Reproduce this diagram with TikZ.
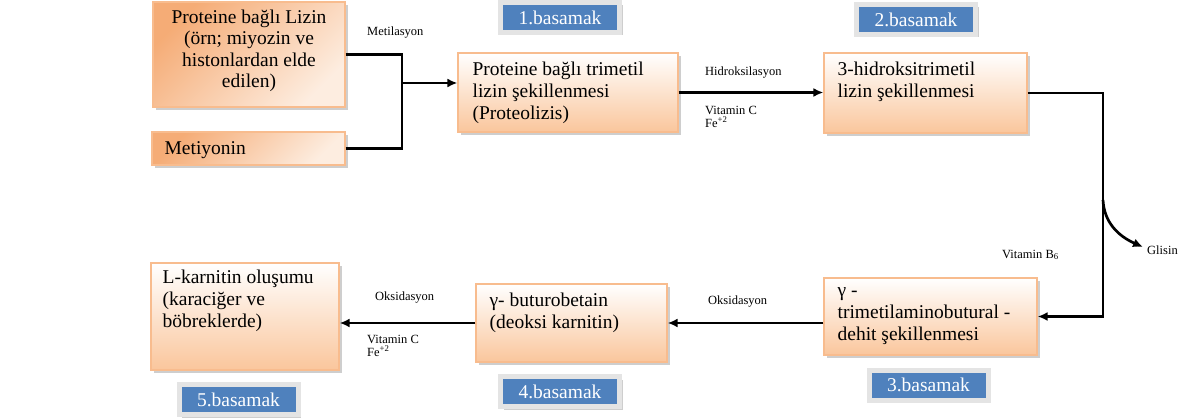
\documentclass[tikz,border=0pt]{standalone}
\usepackage{fontspec}
\setmainfont{Liberation Serif}
\usetikzlibrary{arrows.meta,shadows}
\definecolor{bord}{HTML}{F8BC8E}
\definecolor{peach}{HTML}{FAC69C}
\definecolor{darkpeach}{HTML}{F5AC76}
\definecolor{lightpeach}{HTML}{FDEDE0}
\definecolor{stepblue}{HTML}{4F81BD}
\definecolor{frame}{HTML}{E4E4E4}
\begin{document}
\begin{tikzpicture}[x=1pt,y=-1pt,
  shad/.style={drop shadow={shadow xshift=3pt, shadow yshift=-3pt, fill=black!35, opacity=.55}},
  box/.style={shad, draw=bord, line width=1.2pt, top color=white, bottom color=peach, inner sep=0pt},
  boxA/.style={shad, draw=bord, line width=1.2pt, top color=darkpeach, bottom color=lightpeach, shading angle=45, inner sep=0pt},
  txt/.style={anchor=north west, inner sep=0pt, align=left, font=\fontsize{19.5}{22}\selectfont},
  small/.style={inner sep=0pt, anchor=west, font=\fontsize{12.5}{12}\selectfont},
  smalltwo/.style={inner sep=0pt, anchor=west, align=left, font=\fontsize{12.5}{12.5}\selectfont},
  stepbox/.style={shad, fill=stepblue, draw=frame, line width=5pt, text=white, font=\fontsize{19.5}{22}\selectfont, minimum width=119pt, minimum height=30pt, inner sep=0pt},
  conn/.style={line width=2.7pt},
  arr/.style={conn, -{Latex[length=10pt,width=9pt]}}
]
\useasboundingbox (0,0) rectangle (1193,419);

% boxes
\node[boxA, minimum width=192pt, minimum height=105pt] (A) at (249,54.5) {};
\node[inner sep=0pt, align=center, font=\fontsize{19.5}{21.5}\selectfont] (At) at (249,51) {Proteine bağlı Lizin\\(örn; miyozin ve\\histonlardan elde\\edilen)};
\node[boxA, minimum width=193pt, minimum height=33pt] (M) at (248.5,148.5) {};
\node[txt] (Mt) at ([shift={(13,10)}]M.north west) {Metiyonin};

\node[box, minimum width=220pt, minimum height=79pt] (B) at (568,92.5) {};
\node[txt] (Bt) at ([shift={(15,9)}]B.north west) {Proteine bağlı trimetil\\lizin şekillenmesi\\(Proteolizis)};

\node[box, minimum width=203pt, minimum height=80pt] (C) at (925.5,93) {};
\node[txt] (Ct) at ([shift={(14,9)}]C.north west) {3-hidroksitrimetil\\lizin şekillenmesi};

\node[box, minimum width=213pt, minimum height=77pt] (D) at (930.5,316.5) {};
\node[txt] (Dt) at ([shift={(14,10)}]D.north west) {γ -\\trimetilaminobutural -\\dehit şekillenmesi};

\node[box, minimum width=191pt, minimum height=78pt] (E) at (571.5,323) {};
\node[txt] (Et) at ([shift={(14,9)}]E.north west) {γ- buturobetain\\(deoksi karnitin)};

\node[box, minimum width=188pt, minimum height=107pt] (F) at (245,316.5) {};
\node[txt] (Ft) at ([shift={(12,7)}]F.north west) {L-karnitin oluşumu\\(karaciğer ve\\böbreklerde)};

% step labels
\node[stepbox] (s1) at (560,17.5) {1.basamak};
\node[stepbox] (s2) at (916,19.5) {2.basamak};
\node[stepbox] (s3) at (928.5,385) {3.basamak};
\node[stepbox] (s4) at (560,391.5) {4.basamak};
\node[stepbox] (s5) at (238.5,399.5) {5.basamak};

% connectors
\coordinate (j) at (402,83);
\draw[conn] (A.east) -| (j);
\draw[conn] (M.east) -| (j);
\draw[arr] (j) -- (j -| B.west);
\draw[arr] (B.east) -- (B.east -| C.west);
\coordinate (k) at (1103,200);
\coordinate (g) at (1143,247);
\draw[conn] (C.east) -| (k);
\draw[arr] (k) |- (D.east);
\draw[arr] (k) .. controls (1104,222) and (1118,236) .. (g);
\draw[arr] (D.west |- E.east) -- (E.east);
\draw[arr] (E.west) -- (E.west -| F.east);

% small labels
\node[small] (l1) at (367,33) {Metilasyon};
\node[small] (l2) at (705,73) {Hidroksilasyon};
\node[smalltwo] (l3) at (705,117) {Vitamin C\\Fe\textsuperscript{+2}};
\node[small] (l4) at (1002,255) {Vitamin B\textsubscript{6}};
\node[small] (l5) at (1147,250) {Glisin};
\node[small] (l6) at (708,302) {Oksidasyon};
\node[small] (l7) at (375,298) {Oksidasyon};
\node[smalltwo] (l8) at (367,346) {Vitamin C\\Fe\textsuperscript{+2}};
\end{tikzpicture}
\end{document}
